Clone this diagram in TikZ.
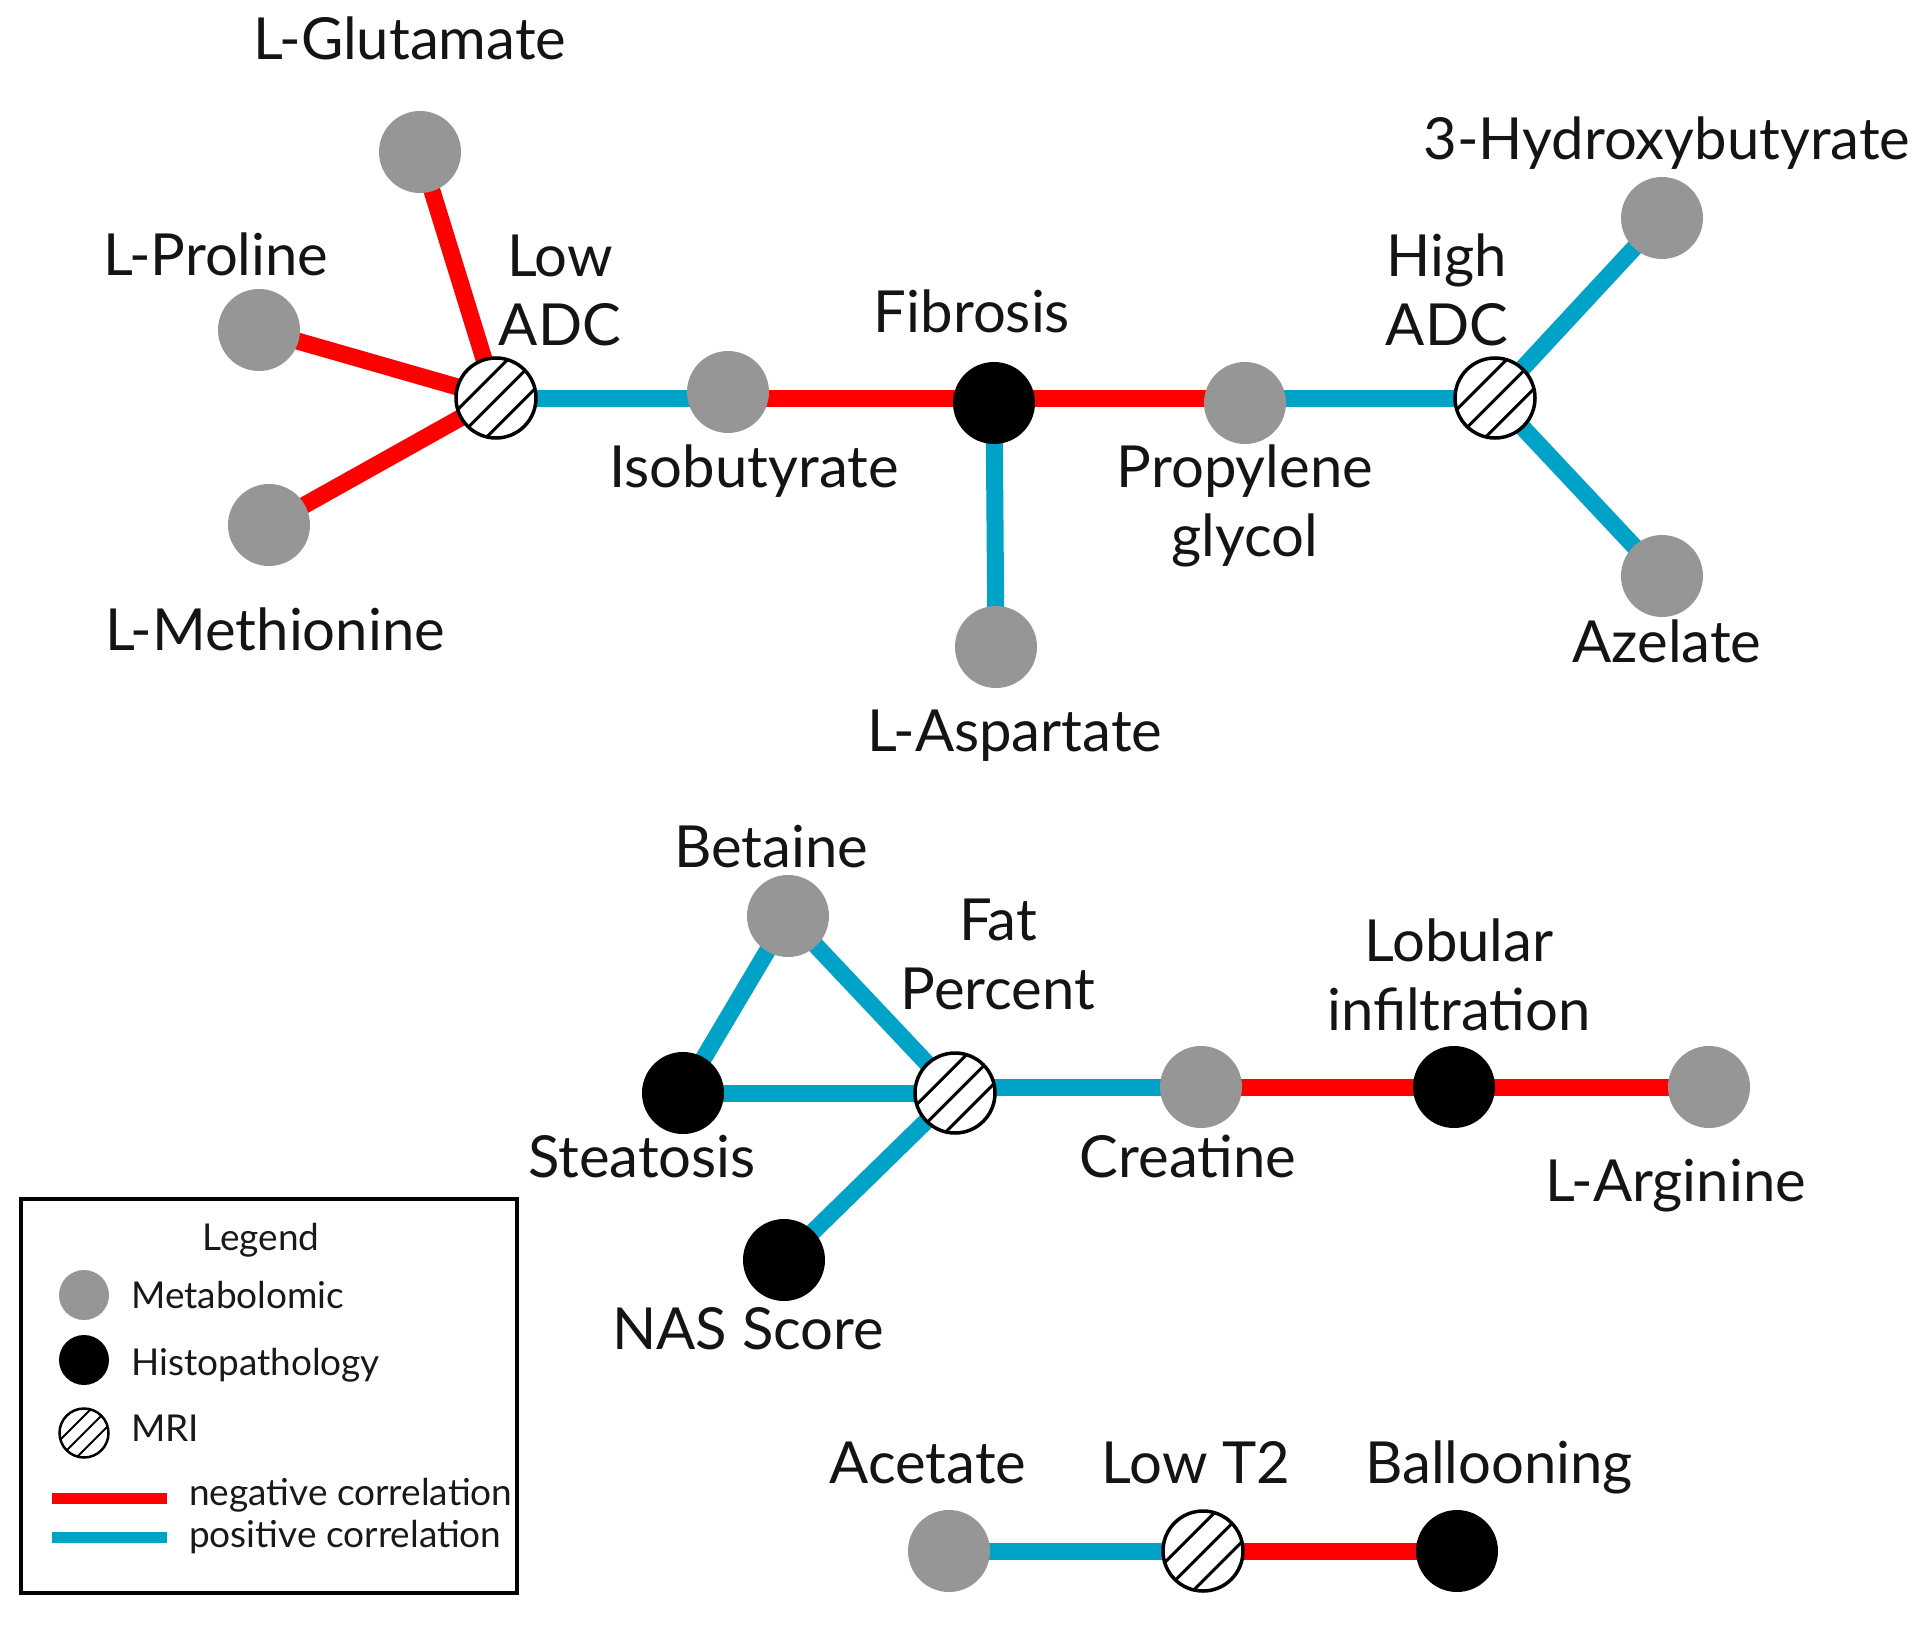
\documentclass[tikz,border=0pt]{standalone}
\usepackage{fontspec}
\setmainfont{Lato}
\pgfdeclarelayer{edges}
\pgfsetlayers{edges,main}
\tikzset{
  x=1pt,y=-1pt,
  metab/.style={circle,fill=gmet,minimum size=82pt,inner sep=0pt},
  histo/.style={circle,fill=black,minimum size=82pt,inner sep=0pt},
  mri/.style={circle,draw=black,line width=3.5pt,fill=white,minimum size=80pt,inner sep=0pt,
    path picture={
      \foreach \o in {-19,1,21}{
        \draw[line width=3pt,shift={(path picture bounding box.center)}]
          (-60+\o*0.707,60+\o*0.707) -- (60+\o*0.707,-60+\o*0.707);
      }}},
  lmetab/.style={circle,fill=gmet,minimum size=50pt,inner sep=0pt},
  lhisto/.style={circle,fill=black,minimum size=50pt,inner sep=0pt},
  lmri/.style={circle,draw=black,line width=2.5pt,fill=white,minimum size=49pt,inner sep=0pt,
    path picture={
      \foreach \o in {-12,0,12}{
        \draw[line width=2pt,shift={(path picture bounding box.center)}]
          (-40+\o*0.707,40+\o*0.707) -- (40+\o*0.707,-40+\o*0.707);
      }}},
  lab/.style={font=\fontsize{58}{69}\selectfont,anchor=base,inner sep=0pt,text=black!92},
  mlab/.style={font=\fontsize{58}{69}\selectfont,anchor=center,align=center,inner sep=0pt,text=black!92},
  leg/.style={font=\fontsize{37}{44}\selectfont,anchor=base west,inner sep=0pt,text=black!90},
  poscorr/.style={line width=17pt,draw=cpos},
  negcorr/.style={line width=17pt,draw=cneg},
  lposcorr/.style={line width=11pt,draw=cpos},
  lnegcorr/.style={line width=11pt,draw=cneg},
}
\definecolor{gmet}{HTML}{969696}
\definecolor{cpos}{HTML}{00A2C7}
\definecolor{cneg}{HTML}{FF0000}
\begin{document}
\begin{tikzpicture}
\useasboundingbox (0,0) rectangle (1925,1632);
% top network
\node[metab] (glu) at (420,152) {};
\node[metab] (pro) at (259,330) {};
\node[metab] (met) at (269,525) {};
\node[mri]   (low) at (496,398) {};
\node[metab] (iso) at (728,392) {};
\node[histo] (fib) at (994,403) {};
\node[metab] (asp) at (996,647) {};
\node[metab] (ppg) at (1245,403) {};
\node[mri]   (high) at (1495,398) {};
\node[metab] (hyd) at (1662,218) {};
\node[metab] (aze) at (1662,576) {};
% middle network
\node[metab] (bet) at (788,916) {};
\node[mri]   (fat) at (955,1093) {};
\node[histo] (ste) at (683,1093) {};
\node[histo] (nas) at (784,1260) {};
\node[metab] (cre) at (1201,1087) {};
\node[histo] (lob) at (1454,1087) {};
\node[metab] (arg) at (1709,1087) {};
% bottom network
\node[metab] (ace) at (949,1551) {};
\node[mri]   (t2) at (1203,1551) {};
\node[histo] (bal) at (1457,1551) {};
\begin{pgfonlayer}{edges}
\draw[negcorr] (low.center) -- (glu.center);
\draw[negcorr] (low.center) -- (pro.center);
\draw[negcorr] (low.center) -- (met.center);
\draw[poscorr] (low.center) -- (iso.center |- low.center);
\draw[negcorr] (iso.center |- low.center) -- (fib.center |- low.center);
\draw[negcorr] (fib.center |- low.center) -- (ppg.center |- low.center);
\draw[poscorr] (fib.center |- low.center) -- (asp.center);
\draw[poscorr] (ppg.center |- low.center) -- (high.center);
\draw[poscorr] (high.center) -- (hyd.center);
\draw[poscorr] (high.center) -- (aze.center);
\draw[poscorr] (fat.center) -- (bet.center);
\draw[poscorr] (bet.center) -- (ste.center);
\draw[poscorr] (ste.center) -- (fat.center);
\draw[poscorr] (fat.center) -- (nas.center);
\draw[poscorr] (fat.center |- cre.center) -- (cre.center);
\draw[negcorr] (cre.center) -- (lob.center);
\draw[negcorr] (lob.center) -- (arg.center);
\draw[poscorr] (ace.center) -- (t2.center);
\draw[negcorr] (t2.center) -- (bal.center);
\end{pgfonlayer}
% labels
\node[lab] (tglu) at (410,60) {L-Glutamate};
\node[lab] (tpro) at (216,276) {L-Proline};
\node[mlab] (tlow) at (560,290) {Low\\ADC};
\node[lab] (tfib) at (972,332) {Fibrosis};
\node[lab] (tiso) at (754,487) {Isobutyrate};
\node[lab] (tmet) at (275,650) {L-Methionine};
\node[mlab] (tppg) at (1245,506) {Propylene\\glycol};
\node[lab] (tasp) at (1015,751) {L-Aspartate};
\node[lab] (thyd) at (1667,160) {3-Hydroxybutyrate};
\node[mlab] (thigh) at (1447,290) {High\\ADC};
\node[lab] (taze) at (1667,662) {Azelate};
\node[lab] (tbet) at (771,867) {Betaine};
\node[mlab] (tfat) at (998,954) {Fat\\Percent};
\node[mlab] (tlob) at (1459,975) {Lobular\\infiltration};
\node[lab] (tste) at (642,1177) {Steatosis};
\node[lab] (tcre) at (1188,1177) {Creatine};
\node[lab] (targ) at (1676,1201) {L-Arginine};
\node[lab] (tnas) at (748,1349) {NAS Score};
\node[lab] (tace) at (928,1483) {Acetate};
\node[lab] (tt2) at (1196,1483) {Low T2};
\node[lab] (tbal) at (1499,1483) {Ballooning};
% legend
\node[draw=black,line width=3.5pt,fill=none,minimum width=496pt,minimum height=394pt,inner sep=0pt] (box) at (269,1396) {};
\node[font=\fontsize{37}{44}\selectfont,anchor=base,inner sep=0pt,text=black!90] (tleg) at (261,1250) {Legend};
\node[lmetab] (lm) at (84,1295) {};
\node[lhisto] (lh) at (84,1360) {};
\node[lmri] (lr) at (84,1433) {};
\node[leg] (tm) at (131,1308) {Metabolomic};
\node[leg] (th) at (131,1375) {Histopathology};
\node[leg] (tr) at (131,1441) {MRI};
\coordinate (n1) at (52,1498);
\coordinate (n2) at (167,1498);
\coordinate (p1) at (52,1537);
\coordinate (p2) at (167,1537);
\draw[lnegcorr] (n1) -- (n2);
\draw[lposcorr] (p1) -- (p2);
\node[leg] (tn) at (189,1505) {negative correlation};
\node[leg] (tp) at (189,1547) {positive correlation};
\end{tikzpicture}
\end{document}
